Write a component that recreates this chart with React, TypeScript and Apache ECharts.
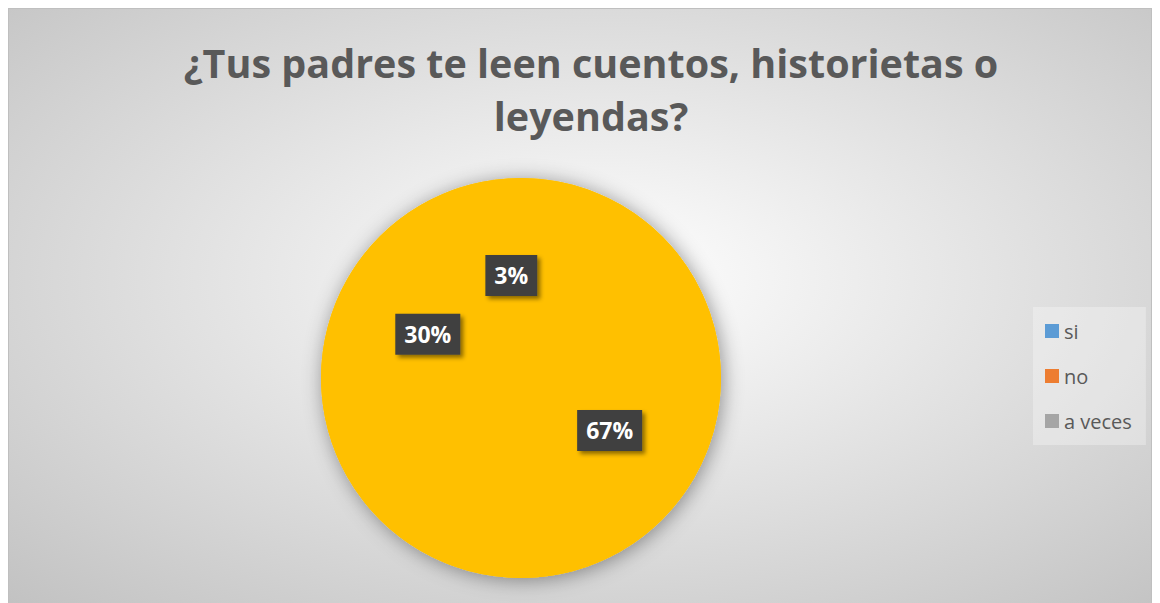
import React, { useEffect, useRef } from "react";
import * as echarts from "echarts";

const categories = ["si", "no", "a veces"];
const values = [67, 30, 3];
const legendColors = ["#5B9BD5", "#ED7D31", "#A5A5A5"];
const sliceColor = "#FFC000";
const titleText = "¿Tus padres te leen cuentos, historietas o\nleyendas?";

export default function App() {
  const ref = useRef<HTMLDivElement>(null);
  useEffect(() => {
    if (!ref.current) return;
    const chart = echarts.init(ref.current, undefined, { renderer: "svg" });
    const total = values.reduce((a, b) => a + b, 0);
    chart.setOption({
      animation: false,
      backgroundColor: {
        type: "radial",
        x: 0.52,
        y: 0.45,
        r: 0.75,
        colorStops: [
          { offset: 0, color: "#FFFFFF" },
          { offset: 1, color: "#C2C2C2" },
        ],
      },
      title: {
        text: titleText,
        left: 577,
        textAlign: "center",
        top: 22,
        textStyle: {
          fontFamily: "Open Sans",
          fontWeight: "bold",
          fontSize: 39.5,
          lineHeight: 53,
          color: "#595959",
        },
      },
      legend: {
        orient: "vertical",
        left: 1024,
        top: 298,
        padding: [14, 14, 14, 12],
        itemWidth: 14,
        itemHeight: 14,
        itemGap: 25,
        icon: "rect",
        backgroundColor: "rgba(255,255,255,0.3)",
        textStyle: { fontFamily: "Open Sans", fontSize: 20, color: "#595959" },
        data: categories.map((c, i) => ({ name: c, itemStyle: { color: legendColors[i] } })),
      },
      series: [
        {
          type: "pie",
          name: "shadow",
          center: [512, 369],
          radius: [0, 200],
          silent: true,
          z: 1,
          data: [{ name: "_all", value: 1 }],
          itemStyle: {
            color: sliceColor,
            borderWidth: 0,
            shadowBlur: 20,
            shadowOffsetX: 2,
            shadowOffsetY: 2,
            shadowColor: "rgba(0,0,0,0.4)",
          },
          label: { show: false },
          labelLine: { show: false },
          emphasis: { disabled: true },
        },
        {
          type: "pie",
          center: [512, 369],
          radius: [0, 200],
          startAngle: 90,
          clockwise: true,
          z: 2,
          avoidLabelOverlap: false,
          data: categories.map((c, i) => ({ name: c, value: values[i] })),
          itemStyle: {
            color: sliceColor,
            borderWidth: 0,
          },
          label: {
            show: true,
            position: "inside",
            formatter: (p: any) => Math.round((p.value / total) * 100) + "%",
            fontFamily: "Open Sans",
            fontWeight: "bold",
            fontSize: 23,
            color: "#FFFFFF",
            backgroundColor: "#404040",
            padding: [10, 9, 8, 9],
            shadowBlur: 4,
            shadowOffsetX: 3,
            shadowOffsetY: 3,
            shadowColor: "rgba(0,0,0,0.45)",
          },
          labelLine: { show: false },
          emphasis: { disabled: true },
        },
      ],
    });
    return () => chart.dispose();
  }, []);
  return (
    <div
      ref={ref}
      style={{ width: 1144, height: 600, borderTop: "1px solid #BFBFBF", borderLeft: "1px solid #BFBFBF", borderRight: "1px solid #BFBFBF", boxSizing: "border-box" }}
    />
  );
}
